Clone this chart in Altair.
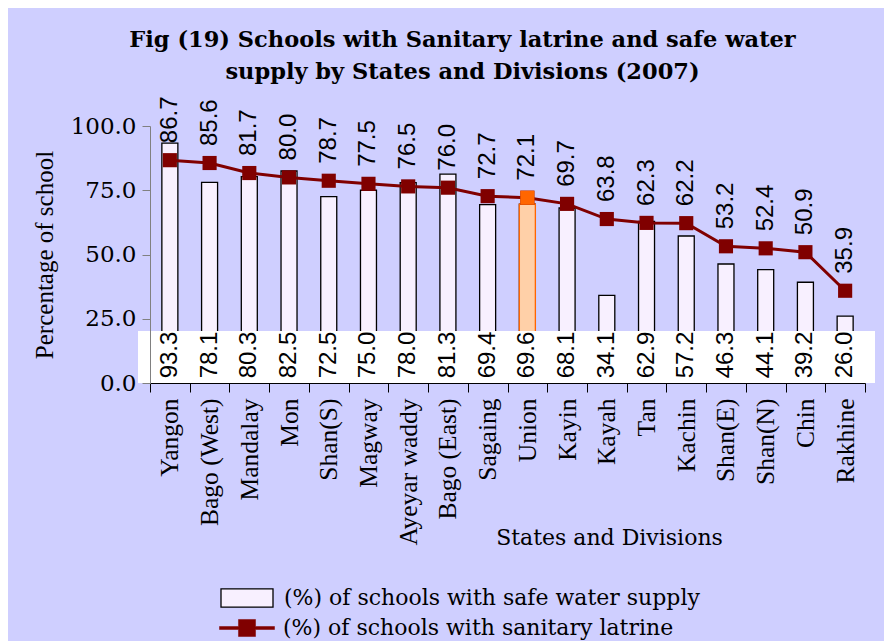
import altair as alt
import pandas as pd

regions = ["Yangon", "Bago (West)", "Mandalay", "Mon", "Shan(S)", "Magway",
           "Ayeyar waddy", "Bago (East)", "Sagaing", "Union", "Kayin", "Kayah",
           "Tan", "Kachin", "Shan(E)", "Shan(N)", "Chin", "Rakhine"]
water = [93.3, 78.1, 80.3, 82.5, 72.5, 75.0, 78.0, 81.3, 69.4, 69.6, 68.1, 34.1,
         62.9, 57.2, 46.3, 44.1, 39.2, 26.0]
latrine = [86.7, 85.6, 81.7, 80.0, 78.7, 77.5, 76.5, 76.0, 72.7, 72.1, 69.7, 63.8,
           62.3, 62.2, 53.2, 52.4, 50.9, 35.9]
y_ticks = [0, 25, 50, 75, 100]

WATER_LABEL = "(%) of schools with safe water supply"
LATRINE_LABEL = "(%) of schools with sanitary latrine"
TITLE = ["Fig (19) Schools with Sanitary latrine and safe water",
         "supply by States and Divisions (2007)"]

df = pd.DataFrame({"region": regions, "water": water, "latrine": latrine,
                   "ws": WATER_LABEL, "ls": LATRINE_LABEL})

W, H = 715, 257
DARK = "#800000"
ORANGE = "#FF6600"
SERIF = "Liberation Serif"
WIDE = "DejaVu Serif"
SANS = "Liberation Sans"

x_enc = alt.X("region:N", sort=regions,
              scale=alt.Scale(paddingInner=0, paddingOuter=0),
              axis=alt.Axis(title="States and Divisions", labelAngle=270,
                            labelAlign="right", labelBaseline="middle",
                            labelFont=SERIF, labelFontSize=25.5, labelColor="black",
                            labelPadding=6, tickBand="extent", tickSize=9,
                            tickColor="black", domainColor="black",
                            titleFont=WIDE, titleFontSize=22, titleFontWeight="normal",
                            titleColor="black", titleX=459, titleY=154,
                            titleAlign="center", titleBaseline="middle",
                            zindex=1))
y_scale = alt.Scale(domain=[0, 100])
y_axis = alt.Axis(title="Percentage of school", values=y_ticks, format=".1f",
                  grid=False, labelFont=WIDE, labelFontSize=23, labelColor="black",
                  labelPadding=6, tickSize=8, tickColor="#808080",
                  domainColor="#808080", titleFont=SERIF, titleFontSize=25,
                  titleFontWeight="normal", titleColor="black", titlePadding=13,
                  zindex=1)

base = alt.Chart(df)

bars = base.mark_bar(size=16, stroke="black", strokeWidth=1.3).encode(
    x=x_enc,
    y=alt.Y("water:Q", scale=y_scale, axis=y_axis),
    fill=alt.Fill("ws:N", scale=alt.Scale(range=["#F8F0FF"]),
                  legend=alt.Legend(title=None, orient="none", legendX=70, legendY=445,
                                    symbolType="M-1,-0.35L1,-0.35L1,0.35L-1,0.35Z",
                                    symbolSize=2704, symbolStrokeColor="black",
                                    symbolStrokeWidth=1.3, labelFont=WIDE,
                                    labelFontSize=22, labelColor="black",
                                    labelOffset=10, padding=0, labelLimit=600)),
)

union_bar = base.transform_filter(alt.datum.region == "Union").mark_bar(
    size=16, fill="#FFD0A8", stroke=ORANGE, strokeWidth=1.3
).encode(x=alt.X("region:N", sort=regions), y=alt.Y("water:Q"))

white_box = alt.Chart(pd.DataFrame({"k": [0]})).mark_rect(color="white").encode(
    x=alt.value(-12), x2=alt.value(W + 10), y=alt.value(H - 52), y2=alt.value(H)
)

line = base.mark_line(strokeWidth=3).encode(
    x=alt.X("region:N", sort=regions),
    y=alt.Y("latrine:Q"),
    stroke=alt.Stroke("ls:N", scale=alt.Scale(range=[DARK]),
                      legend=alt.Legend(title=None, orient="none", legendX=69, legendY=474,
                                        symbolType="M-1,-0.055L-0.31,-0.055L-0.31,-0.31L0.31,-0.31L0.31,-0.055L1,-0.055L1,0.055L0.31,0.055L0.31,0.31L-0.31,0.31L-0.31,0.055L-1,0.055Z",
                                        symbolSize=3025, symbolFillColor=DARK,
                                        symbolStrokeColor=DARK, symbolStrokeWidth=0.5,
                                        labelFont=WIDE, labelFontSize=22,
                                        labelColor="black", labelOffset=8, padding=0,
                                        labelLimit=600)),
)

squares = base.mark_point(shape="square", filled=True, size=200, color=DARK,
                          opacity=1).encode(
    x=alt.X("region:N", sort=regions), y=alt.Y("latrine:Q"))

union_sq = base.transform_filter(alt.datum.region == "Union").mark_point(
    shape="square", filled=True, size=200, color=ORANGE, opacity=1
).encode(x=alt.X("region:N", sort=regions), y=alt.Y("latrine:Q"))

top_labels = base.mark_text(angle=270, align="left", baseline="middle", dx=17,
                            font=SANS, fontSize=24, color="black").encode(
    x=alt.X("region:N", sort=regions), y=alt.Y("latrine:Q"),
    text=alt.Text("latrine:Q", format=".1f"))

bottom_labels = base.mark_text(angle=270, align="center", baseline="middle",
                               font=SANS, fontSize=24, color="black").encode(
    x=alt.X("region:N", sort=regions), y=alt.value(H - 28),
    text=alt.Text("water:Q", format=".1f"))

chart = alt.layer(
    bars, union_bar, white_box, line, squares, union_sq, top_labels, bottom_labels
).resolve_legend(fill="independent", stroke="independent").properties(
    width=W, height=H,
    autosize=alt.AutoSizeParams(type="none"),
    padding={"left": 142, "top": 118, "right": 19, "bottom": 275},
    title=alt.TitleParams(TITLE, font=WIDE, fontSize=22.5, fontWeight="bold",
                          color="black", anchor="middle", dx=-45, lineHeight=32,
                          offset=13),
).configure(background="#CFCFFF").configure_view(stroke=None)

chart.save("out.html", embed_options={"renderer": "svg", "actions": False})
